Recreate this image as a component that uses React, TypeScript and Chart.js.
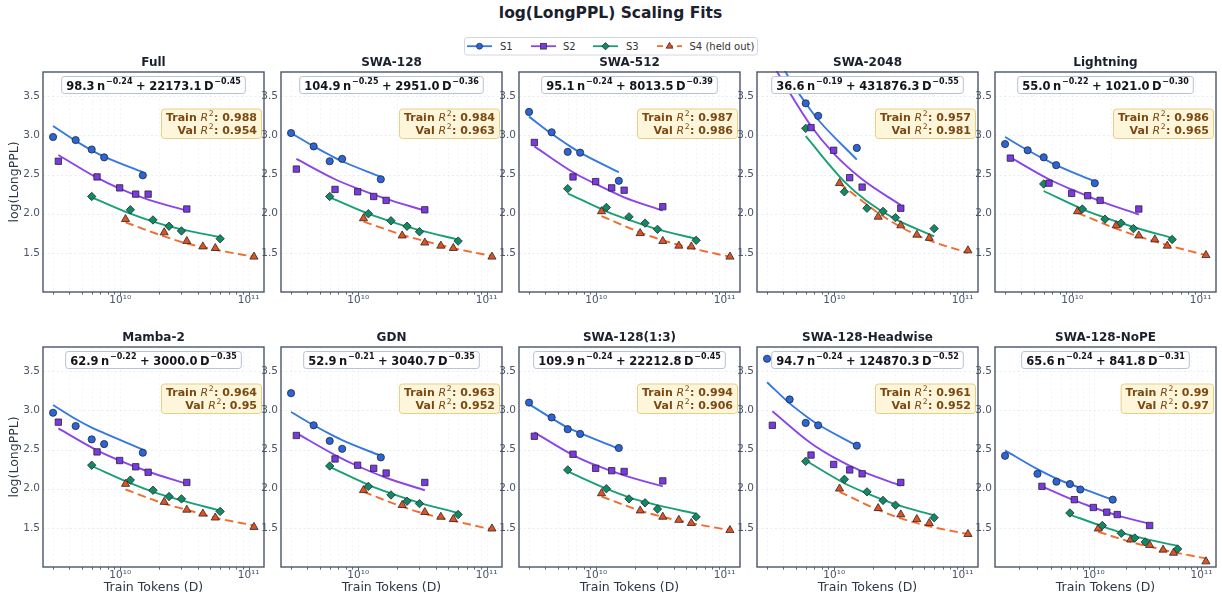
import React, { useEffect, useRef } from "react";
import { Chart, registerables } from "chart.js";

Chart.register(...registerables);

const FF = '"DejaVu Sans", "Noto Sans", sans-serif';

// ---------------- data ----------------
const PANEL_TITLES = ["Full", "SWA-128", "SWA-512", "SWA-2048", "Lightning", "Mamba-2", "GDN", "SWA-128(1:3)", "SWA-128-Headwise", "SWA-128-NoPE"];

const FIT_A = ["98.3", "104.9", "95.1", "36.6", "55.0", "62.9", "52.9", "109.9", "94.7", "65.6"];
const FIT_ALPHA = ["0.24", "0.25", "0.24", "0.19", "0.22", "0.22", "0.21", "0.24", "0.24", "0.24"];
const FIT_B = ["22173.1", "2951.0", "8013.5", "431876.3", "1021.0", "3000.0", "3040.7", "22212.8", "124870.3", "841.8"];
const FIT_BETA = ["0.45", "0.36", "0.39", "0.55", "0.30", "0.35", "0.35", "0.45", "0.52", "0.31"];
const TRAIN_R2 = ["0.988", "0.984", "0.987", "0.957", "0.986", "0.964", "0.963", "0.994", "0.961", "0.99"];
const VAL_R2 = ["0.954", "0.963", "0.986", "0.981", "0.965", "0.95", "0.952", "0.906", "0.952", "0.97"];

const SERIES_NAMES = ["S1", "S2", "S3", "S4 (held out)"];

const S1_X = [3e9, 4.5e9, 6e9, 7.5e9, 1.5e10];
const S1_X_NOPE = [1.5e9, 3e9, 4.5e9, 6e9, 7.5e9, 1.5e10];
const S2_X = [3.3e9, 6.6e9, 9.9e9, 1.32e10, 1.65e10, 3.3e10];
const S3_X = [6e9, 1.2e10, 1.8e10, 2.4e10, 3e10, 6e10];
const S4_X = [1.1e10, 2.2e10, 3.3e10, 4.4e10, 5.5e10, 1.1e11];
const S1_X_BY_PANEL = [S1_X, S1_X, S1_X, S1_X, S1_X, S1_X, S1_X, S1_X, S1_X, S1_X_NOPE];

const S1_Y = [
  [2.98, 2.94, 2.82, 2.72, 2.49],
  [3.03, 2.86, 2.67, 2.70, 2.44],
  [3.30, 3.04, 2.79, 2.78, 2.42],
  [4.30, 3.92, 3.41, 3.25, 2.84],
  [2.89, 2.81, 2.72, 2.62, 2.39],
  [2.97, 2.80, 2.63, 2.57, 2.46],
  [3.22, 2.81, 2.61, 2.51, 2.40],
  [3.10, 2.91, 2.76, 2.70, 2.52],
  [3.66, 3.14, 2.84, 2.81, 2.55],
  [2.42, 2.19, 2.09, 2.06, 1.99, 1.86],
];
const S2_Y = [
  [2.67, 2.47, 2.33, 2.25, 2.25, 2.06],
  [2.57, 2.31, 2.28, 2.22, 2.17, 2.05],
  [2.91, 2.47, 2.41, 2.33, 2.30, 2.09],
  [4.05, 3.10, 2.81, 2.46, 2.34, 2.07],
  [2.71, 2.39, 2.26, 2.23, 2.17, 2.06],
  [2.85, 2.47, 2.36, 2.28, 2.21, 2.08],
  [2.68, 2.38, 2.30, 2.26, 2.20, 2.08],
  [2.67, 2.44, 2.26, 2.23, 2.22, 2.10],
  [2.81, 2.43, 2.31, 2.24, 2.19, 2.08],
  [2.03, 1.86, 1.76, 1.70, 1.67, 1.53],
];
const S3_Y = [
  [2.22, 2.05, 1.92, 1.84, 1.78, 1.68],
  [2.22, 2.00, 1.91, 1.84, 1.77, 1.65],
  [2.32, 2.08, 1.96, 1.88, 1.80, 1.66],
  [3.09, 2.28, 2.07, 2.03, 1.95, 1.81],
  [2.38, 2.06, 1.93, 1.88, 1.81, 1.67],
  [2.30, 2.11, 1.98, 1.90, 1.87, 1.71],
  [2.29, 2.03, 1.92, 1.84, 1.81, 1.67],
  [2.24, 2.00, 1.87, 1.82, 1.74, 1.64],
  [2.35, 2.12, 1.96, 1.85, 1.79, 1.63],
  [1.69, 1.53, 1.43, 1.37, 1.32, 1.23],
];
const S4_Y = [
  [1.93, 1.76, 1.65, 1.58, 1.56, 1.45],
  [1.94, 1.72, 1.63, 1.59, 1.56, 1.45],
  [2.03, 1.75, 1.65, 1.59, 1.58, 1.45],
  [2.39, 1.96, 1.85, 1.73, 1.69, 1.53],
  [2.03, 1.85, 1.72, 1.67, 1.59, 1.47],
  [2.06, 1.83, 1.73, 1.68, 1.63, 1.51],
  [1.98, 1.79, 1.70, 1.64, 1.61, 1.49],
  [1.94, 1.72, 1.64, 1.60, 1.56, 1.47],
  [2.00, 1.75, 1.67, 1.61, 1.56, 1.42],
  [1.49, 1.35, 1.28, 1.22, 1.18, 1.07],
];

// fitted curves, read at five token counts each
const FX1 = [3e9, 4.5e9, 6e9, 7.5e9, 1.5e10];
const FX1_NOPE = [1.5e9, 3e9, 4.5e9, 7.5e9, 1.5e10];
const FX2 = [3.3e9, 6.6e9, 9.9e9, 1.65e10, 3.3e10];
const FX3 = [6e9, 1.2e10, 1.8e10, 3e10, 6e10];
const FX4 = [1.1e10, 2.2e10, 3.3e10, 5.5e10, 1.1e11];
const FIT1_X = [FX1, FX1, FX1, FX1, FX1, FX1, FX1, FX1, FX1, FX1_NOPE];

const FIT1_Y = [
  [3.12, 2.93, 2.81, 2.73, 2.53],
  [3.03, 2.86, 2.75, 2.67, 2.47],
  [3.24, 3.02, 2.88, 2.78, 2.53],
  [4.25, 3.72, 3.41, 3.20, 2.69],
  [2.98, 2.81, 2.70, 2.62, 2.41],
  [3.07, 2.89, 2.78, 2.71, 2.50],
  [2.98, 2.81, 2.70, 2.62, 2.42],
  [3.08, 2.90, 2.78, 2.71, 2.51],
  [3.36, 3.09, 2.93, 2.82, 2.55],
  [2.49, 2.25, 2.13, 2.01, 1.86],
];
const FIT2_Y = [
  [2.75, 2.46, 2.32, 2.18, 2.04],
  [2.70, 2.44, 2.32, 2.19, 2.04],
  [2.86, 2.53, 2.38, 2.21, 2.04],
  [3.91, 3.12, 2.77, 2.44, 2.11],
  [2.72, 2.44, 2.31, 2.16, 1.99],
  [2.77, 2.49, 2.36, 2.22, 2.06],
  [2.71, 2.43, 2.29, 2.14, 1.98],
  [2.72, 2.43, 2.30, 2.17, 2.03],
  [2.99, 2.58, 2.40, 2.22, 2.04],
  [2.03, 1.85, 1.76, 1.66, 1.55],
];
const FIT3_Y = [
  [2.21, 2.00, 1.90, 1.80, 1.70],
  [2.21, 2.00, 1.90, 1.79, 1.67],
  [2.26, 2.03, 1.92, 1.80, 1.68],
  [2.99, 2.41, 2.16, 1.93, 1.71],
  [2.29, 2.06, 1.95, 1.83, 1.69],
  [2.29, 2.07, 1.96, 1.85, 1.72],
  [2.28, 2.05, 1.94, 1.82, 1.69],
  [2.22, 2.00, 1.89, 1.79, 1.68],
  [2.36, 2.07, 1.94, 1.80, 1.66],
  [1.67, 1.52, 1.44, 1.36, 1.27],
];
const FIT4_Y = [
  [1.89, 1.71, 1.62, 1.54, 1.45],
  [1.90, 1.73, 1.65, 1.56, 1.46],
  [1.97, 1.76, 1.66, 1.56, 1.45],
  [2.39, 2.01, 1.83, 1.66, 1.50],
  [2.01, 1.81, 1.71, 1.60, 1.47],
  [1.99, 1.81, 1.73, 1.63, 1.53],
  [1.96, 1.77, 1.68, 1.59, 1.48],
  [1.90, 1.72, 1.64, 1.56, 1.47],
  [1.96, 1.73, 1.62, 1.52, 1.42],
  [1.45, 1.32, 1.26, 1.19, 1.11],
];

const Y_TICKS = [1.5, 2.0, 2.5, 3.0, 3.5];
const Y_TICK_LABELS = ["1.5", "2.0", "2.5", "3.0", "3.5"];
const X_MAJOR = [1e10, 1e11];
const X_MAJOR_LABELS = ["10\u00B9\u2070", "10\u00B9\u00B9"];
const Y_MIN = 1.0;
const Y_MAX = 3.81;

// ---------------- styles / layout ----------------
const LINE_COLORS = ["#3479e0", "#8b44eb", "#17a074", "#f26b2b"];
const FILL_COLORS = ["#2a66d8", "#7b39e2", "#0f8a64", "#e2521d"];
const POINT_STYLES = ["circle", "rect", "rectRot", "triangle"];
const POINT_RADII = [3.6, 4.5, 4.2, 4.7];
const EDGE = "#26262f";
const FRAME = "#4a5568";
const TICK_COLOR = "#4a5568";

const BOX_W = 221;
const BOX_H = 220;
const COL_LEFT = [43, 281, 519, 757, 995];
const ROW_TOP = [72, 347];
const PAD_L = 40;
const PAD_T = 24;
const PAD_R = 8;
const PAD_B = 30;

type Part = { t: string; f: string; g?: number; dy?: number };

function measureParts(ctx: CanvasRenderingContext2D, parts: Part[]) {
  let w = 0;
  for (const p of parts) {
    w += p.g || 0;
    ctx.font = p.f;
    w += ctx.measureText(p.t).width;
  }
  return w;
}

function drawParts(ctx: CanvasRenderingContext2D, parts: Part[], x: number, base: number) {
  let cx = x;
  ctx.textAlign = "left";
  ctx.textBaseline = "alphabetic";
  for (const p of parts) {
    cx += p.g || 0;
    ctx.font = p.f;
    ctx.fillText(p.t, cx, base - (p.dy || 0));
    cx += ctx.measureText(p.t).width;
  }
}

function makeDecor(idx: number) {
  const row = Math.floor(idx / 5);
  const col = idx % 5;
  return {
    id: "decor" + idx,
    beforeDatasetsDraw(chart: any) {
      const { ctx, chartArea: a, scales } = chart;
      const xs = scales.x;
      const ys = scales.y;
      ctx.save();
      ctx.lineWidth = 0.7;
      ctx.setLineDash([2, 2.5]);
      ctx.strokeStyle = "rgba(175,185,200,0.22)";
      for (const t of xs.ticks) {
        const px = Math.round(xs.getPixelForValue(t.value)) + 0.5;
        ctx.beginPath();
        ctx.moveTo(px, a.top);
        ctx.lineTo(px, a.bottom);
        ctx.stroke();
      }
      ctx.strokeStyle = "rgba(175,185,200,0.38)";
      for (const t of ys.ticks) {
        const py = Math.round(ys.getPixelForValue(t.value)) + 0.5;
        ctx.beginPath();
        ctx.moveTo(a.left, py);
        ctx.lineTo(a.right, py);
        ctx.stroke();
      }
      ctx.restore();
    },
    afterDatasetsDraw(chart: any) {
      const { ctx, chartArea: a, scales } = chart;
      const xs = scales.x;
      const cx = (a.left + a.right) / 2;
      ctx.save();
      // frame
      ctx.strokeStyle = FRAME;
      ctx.lineWidth = 1.4;
      ctx.strokeRect(a.left, a.top, a.right - a.left, a.bottom - a.top);
      // x tick marks
      ctx.lineWidth = 0.9;
      for (const t of xs.ticks) {
        const px = Math.round(xs.getPixelForValue(t.value)) + 0.5;
        const major = X_MAJOR.indexOf(t.value) >= 0;
        ctx.beginPath();
        ctx.moveTo(px, a.bottom);
        ctx.lineTo(px, a.bottom + (major ? 3.4 : 2.6));
        ctx.stroke();
      }
      // formula box
      const MB = `bold 11.5px ${FF}`;
      const SB = `bold 8px ${FF}`;
      const fparts: Part[] = [
        { t: FIT_A[idx], f: MB },
        { t: "n", f: MB, g: 2.5 },
        { t: "\u2212" + FIT_ALPHA[idx], f: SB, g: 0.8, dy: 5.2 },
        { t: "+", f: MB, g: 3.5 },
        { t: FIT_B[idx], f: MB, g: 3.5 },
        { t: "D", f: MB, g: 2.5 },
        { t: "\u2212" + FIT_BETA[idx], f: SB, g: 0.8, dy: 5.2 },
      ];
      const fw = measureParts(ctx, fparts);
      const fbw = fw + 9;
      const fbx = cx - fbw / 2;
      const fby = a.top + 4.5;
      ctx.beginPath();
      ctx.roundRect(fbx, fby, fbw, 17, 2.5);
      ctx.fillStyle = "#ffffff";
      ctx.fill();
      ctx.strokeStyle = "#b7c2d4";
      ctx.lineWidth = 1;
      ctx.stroke();
      ctx.fillStyle = "#14141c";
      drawParts(ctx, fparts, fbx + 4.5, fby + 13);
      // R2 box
      const RB = `bold 11px ${FF}`;
      const RI = `italic 11px ${FF}`;
      const RS = `7.7px ${FF}`;
      const l1: Part[] = [
        { t: "Train ", f: RB },
        { t: "R", f: RI },
        { t: "2", f: RS, g: 0.6, dy: 4.6 },
        { t: ": " + TRAIN_R2[idx], f: RB, g: 0.3 },
      ];
      const l2: Part[] = [
        { t: "Val ", f: RB },
        { t: "R", f: RI },
        { t: "2", f: RS, g: 0.6, dy: 4.6 },
        { t: ": " + VAL_R2[idx], f: RB, g: 0.3 },
      ];
      const w1 = measureParts(ctx, l1);
      const w2 = measureParts(ctx, l2);
      const rr = a.right - 2.5;
      const tr = rr - 4.5;
      const rbw = Math.max(w1, w2) + 9;
      const rby = a.top + 37;
      ctx.beginPath();
      ctx.roundRect(rr - rbw, rby, rbw, 29.5, 3);
      ctx.fillStyle = "#fdf6da";
      ctx.fill();
      ctx.strokeStyle = "#e7cf87";
      ctx.lineWidth = 1;
      ctx.stroke();
      ctx.fillStyle = "#7b4812";
      drawParts(ctx, l1, tr - w1, rby + 11.5);
      drawParts(ctx, l2, tr - w2, rby + 24.5);
      // panel title
      ctx.fillStyle = "#1a202c";
      ctx.font = `bold 12px ${FF}`;
      ctx.textAlign = "center";
      ctx.textBaseline = "middle";
      ctx.fillText(PANEL_TITLES[idx], cx, a.top - 9.5);
      // axis labels
      ctx.fillStyle = "#2d3748";
      ctx.font = `12.5px ${FF}`;
      if (col === 0) {
        ctx.save();
        ctx.translate(15 - (COL_LEFT[0] - PAD_L), (a.top + a.bottom) / 2);
        ctx.rotate(-Math.PI / 2);
        ctx.fillText("log(LongPPL)", 0, 0);
        ctx.restore();
      }
      if (row === 1) {
        ctx.fillText("Train Tokens (D)", cx, a.bottom + 21);
      }
      ctx.restore();
    },
  };
}

function Panel({ idx }: { idx: number }) {
  const ref = useRef<HTMLCanvasElement>(null);
  const row = Math.floor(idx / 5);
  const col = idx % 5;
  const w = BOX_W + PAD_L + PAD_R;
  const h = BOX_H + PAD_T + PAD_B;

  useEffect(() => {
    if (!ref.current) return;
    const xsList = [S1_X_BY_PANEL[idx], S2_X, S3_X, S4_X];
    const ysList = [S1_Y[idx], S2_Y[idx], S3_Y[idx], S4_Y[idx]];
    const fxList = [FIT1_X[idx], FX2, FX3, FX4];
    const fyList = [FIT1_Y[idx], FIT2_Y[idx], FIT3_Y[idx], FIT4_Y[idx]];

    const allX = ([] as number[]).concat(...xsList);
    const lo = Math.log10(Math.min(...allX));
    const hi = Math.log10(Math.max(...allX));
    const m = (hi - lo) * 0.05;
    const xMin = Math.pow(10, lo - m);
    const xMax = Math.pow(10, hi + m);
    const xTicks: number[] = [];
    for (let e = Math.floor(lo - m); e <= Math.ceil(hi + m); e++) {
      for (let k = 1; k <= 9; k++) {
        const v = k * Math.pow(10, e);
        if (v >= xMin && v <= xMax) xTicks.push(v);
      }
    }

    const datasets: any[] = [];
    for (let s = 0; s < 4; s++) {
      datasets.push({
        label: SERIES_NAMES[s] + " fit",
        data: fxList[s].map((x, i) => ({ x, y: fyList[s][i] })),
        showLine: true,
        borderColor: LINE_COLORS[s],
        borderWidth: 1.9,
        borderDash: s === 3 ? [8.5, 4.5] : [],
        pointRadius: 0,
        cubicInterpolationMode: "monotone",
        fill: false,
        order: 2,
        clip: 1,
      });
    }
    for (let s = 0; s < 4; s++) {
      datasets.push({
        label: SERIES_NAMES[s],
        data: xsList[s].map((x, i) => ({ x, y: ysList[s][i] })),
        showLine: false,
        pointStyle: POINT_STYLES[s],
        pointRadius: POINT_RADII[s],
        backgroundColor: FILL_COLORS[s],
        borderColor: EDGE,
        pointBackgroundColor: FILL_COLORS[s],
        pointBorderColor: EDGE,
        pointBorderWidth: 0.8,
        order: 1,
        clip: 1,
      });
    }

    const chart = new Chart(ref.current, {
      type: "scatter",
      data: { datasets },
      options: {
        animation: false,
        responsive: false,
        maintainAspectRatio: false,
        devicePixelRatio: 1,
        events: [],
        layout: { autoPadding: false, padding: { left: 0, top: PAD_T, right: PAD_R, bottom: 0 } },
        plugins: { legend: { display: false }, tooltip: { enabled: false }, title: { display: false } },
        scales: {
          x: {
            type: "logarithmic",
            min: xMin,
            max: xMax,
            grid: { display: false, drawTicks: false },
            border: { display: false },
            afterBuildTicks: (sc: any) => {
              sc.ticks = xTicks.map((v) => ({ value: v }));
            },
            afterFit: (sc: any) => {
              sc.height = PAD_B;
            },
            ticks: {
              autoSkip: false,
              maxRotation: 0,
              minRotation: 0,
              padding: 2,
              color: TICK_COLOR,
              font: { family: FF, size: 10.5 },
              callback: (v: any) => {
                const i = X_MAJOR.indexOf(Number(v));
                return i >= 0 ? X_MAJOR_LABELS[i] : "";
              },
            },
          },
          y: {
            type: "linear",
            min: Y_MIN,
            max: Y_MAX,
            grid: { display: false, drawTicks: false },
            border: { display: false },
            afterBuildTicks: (sc: any) => {
              sc.ticks = Y_TICKS.map((v) => ({ value: v }));
            },
            afterFit: (sc: any) => {
              sc.width = PAD_L;
            },
            ticks: {
              padding: 3,
              color: TICK_COLOR,
              font: { family: FF, size: 10.5 },
              callback: (v: any) => {
                const i = Y_TICKS.indexOf(Number(v));
                return i >= 0 ? Y_TICK_LABELS[i] : "";
              },
            },
          },
        },
      } as any,
      plugins: [makeDecor(idx)],
    } as any);
    return () => chart.destroy();
  }, [idx]);

  return (
    <canvas
      ref={ref}
      width={w}
      height={h}
      style={{ position: "absolute", left: COL_LEFT[col] - PAD_L, top: ROW_TOP[row] - PAD_T, width: w, height: h }}
    />
  );
}

function LegendMarker({ s, cx, cy }: { s: number; cx: number; cy: number }) {
  const common = { fill: FILL_COLORS[s], stroke: EDGE, strokeWidth: 0.7 };
  if (s === 0) return <circle cx={cx} cy={cy} r={3} {...common} />;
  if (s === 1) return <rect x={cx - 2.9} y={cy - 2.9} width={5.8} height={5.8} {...common} />;
  if (s === 2) return <polygon points={`${cx},${cy - 3.7} ${cx + 3.7},${cy} ${cx},${cy + 3.7} ${cx - 3.7},${cy}`} {...common} />;
  return <polygon points={`${cx},${cy - 3.9} ${cx + 3.4},${cy + 2} ${cx - 3.4},${cy + 2}`} {...common} />;
}

function Legend() {
  const entries = [
    { l: 3, t: 36 },
    { l: 67, t: 99 },
    { l: 129, t: 162 },
    { l: 193, t: 225.5 },
  ];
  return (
    <svg style={{ position: "absolute", left: 464, top: 37 }} width={295} height={19}>
      <rect x={0.5} y={0.5} width={293} height={17.5} rx={2.5} fill="#ffffff" stroke="#d3d8e1" strokeWidth={1} />
      {entries.map((e, s) => (
        <g key={s}>
          <line
            x1={e.l}
            x2={e.l + 25}
            y1={9.2}
            y2={9.2}
            stroke={LINE_COLORS[s]}
            strokeWidth={1.8}
            strokeDasharray={s === 3 ? "6 4" : undefined}
          />
          <LegendMarker s={s} cx={e.l + 12.5} cy={9.2} />
          <text x={e.t} y={12.8} fontFamily={FF} fontSize={10} fill="#333">
            {SERIES_NAMES[s]}
          </text>
        </g>
      ))}
    </svg>
  );
}

export default function App() {
  return (
    <div style={{ position: "fixed", left: 0, top: 0, width: 1222, height: 596, background: "#ffffff", overflow: "hidden" }}>
      <div
        style={{
          position: "absolute",
          left: 0,
          top: 3,
          width: 1221,
          textAlign: "center",
          font: `bold 15.5px ${FF}`,
          color: "#1a202c",
          lineHeight: "20px",
        }}
      >
        log(LongPPL) Scaling Fits
      </div>
      <Legend />
      {PANEL_TITLES.map((_, i) => (
        <Panel key={i} idx={i} />
      ))}
    </div>
  );
}
